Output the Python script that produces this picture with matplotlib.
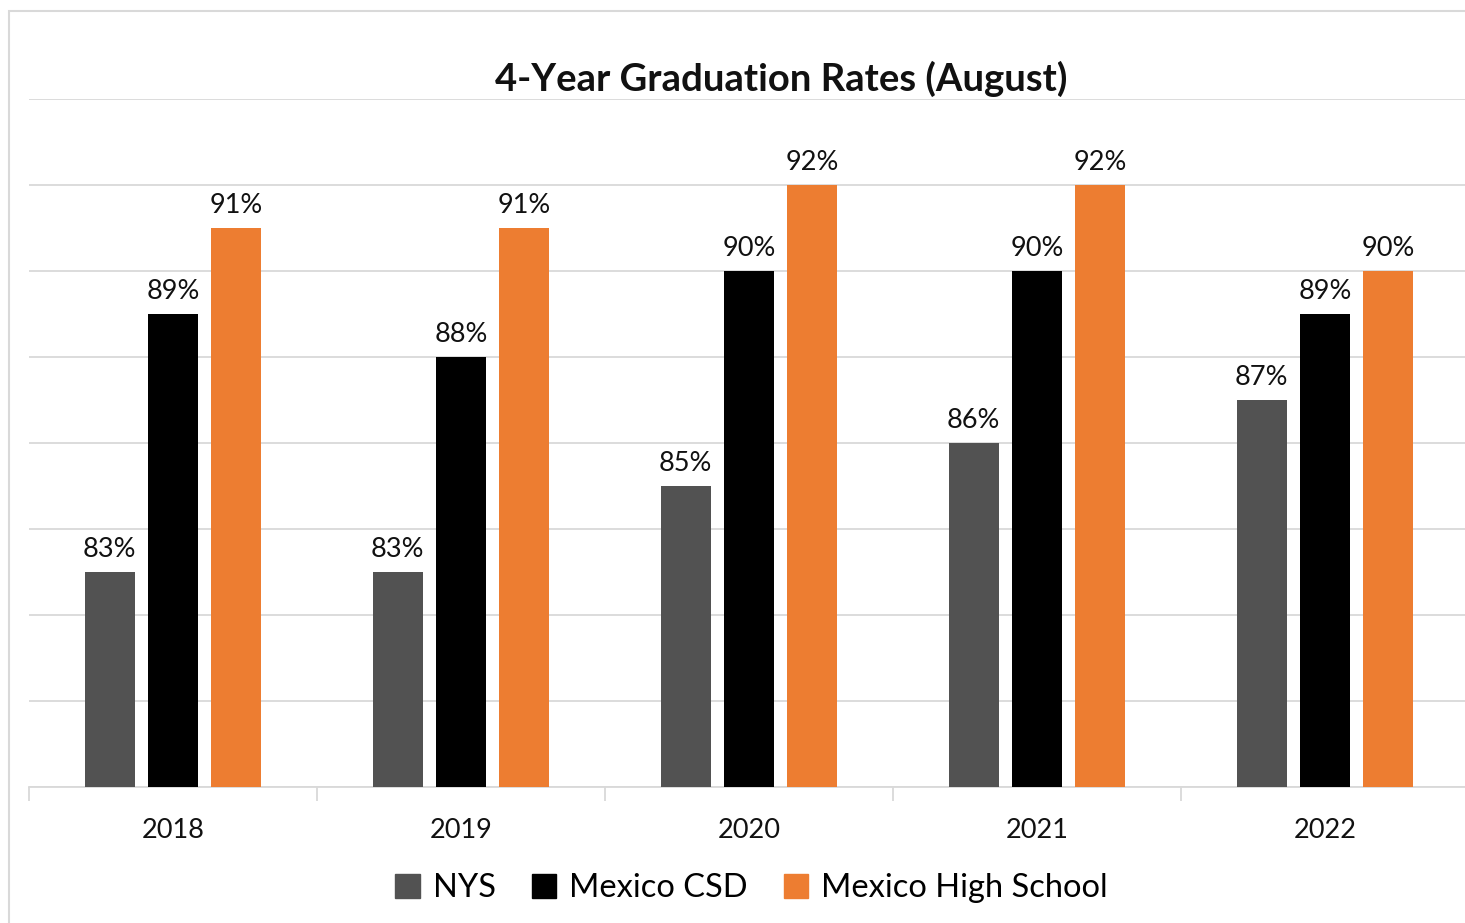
import matplotlib.pyplot as plt
import matplotlib.patches as mpatches
import numpy as np

plt.rcParams['font.family'] = ['Lato', 'DejaVu Sans']

years = ['2018', '2019', '2020', '2021', '2022']
nys = [83, 83, 85, 86, 87]
csd = [89, 88, 90, 90, 89]
hs = [91, 91, 92, 92, 90]
series_names = ['NYS', 'Mexico CSD', 'Mexico High School']
colors = ['#525252', '#000000', '#ED7D31']

W, H = 1465, 923
fig = plt.figure(figsize=(W / 100, H / 100), dpi=100)
fig.patch.set_facecolor('white')

# light chart border like the Excel chart area
fig.add_artist(mpatches.Rectangle((9 / W, -0.01), 1.0, 1 - 11 / H + 0.01,
                                  transform=fig.transFigure, fill=False,
                                  edgecolor='#d9d9d9', linewidth=1.5))

ax = fig.add_axes([29 / W, 136 / H, 1440 / W, 688 / H])
x = np.arange(len(years))
bw = 0.174
offs = [-0.22, 0, 0.22]
for vals, off, col, name in zip([nys, csd, hs], offs, colors, series_names):
    bars = ax.bar(x + off, vals, bw, color=col, label=name, zorder=3)
    for b, v in zip(bars, vals):
        ax.annotate(f'{v}%', (b.get_x() + b.get_width() / 2, v),
                    xytext=(0, 7), textcoords='offset points',
                    ha='center', va='bottom', fontsize=19.5, color='#111111')

ax.set_xlim(-0.5, 4.5)
ax.set_ylim(78, 94)
ax.set_yticks(np.arange(78, 95, 2))
ax.yaxis.grid(True, color='#d9d9d9', linewidth=1.3, zorder=0)
ax.tick_params(axis='y', left=False, labelleft=False)
for s in ['top', 'right', 'left']:
    ax.spines[s].set_visible(False)
ax.spines['bottom'].set_color('#d9d9d9')
ax.spines['bottom'].set_linewidth(1.3)
ax.set_xticks(x)
ax.set_xticklabels(years, fontsize=19.5, color='#111111')
ax.set_xticks(np.arange(-0.5, 5, 1), minor=True)
ax.tick_params(axis='x', which='major', length=0, pad=22)
ax.tick_params(axis='x', which='minor', length=10, color='#d9d9d9', width=1.3)

fig.text(0.533, 1 - 79 / H, '4-Year Graduation Rates (August)', ha='center',
         va='center', fontsize=27.5, fontweight='bold', color='#111111')

handles = [mpatches.Patch(color=c) for c in colors]
fig.legend(handles, series_names, loc='center', bbox_to_anchor=(0.513, 1 - 888 / H),
           ncol=3, frameon=False, fontsize=23.5, handlelength=0.75, handleheight=0.75,
           handletextpad=0.4, columnspacing=1.1)

fig.savefig('out.png', dpi=100)
